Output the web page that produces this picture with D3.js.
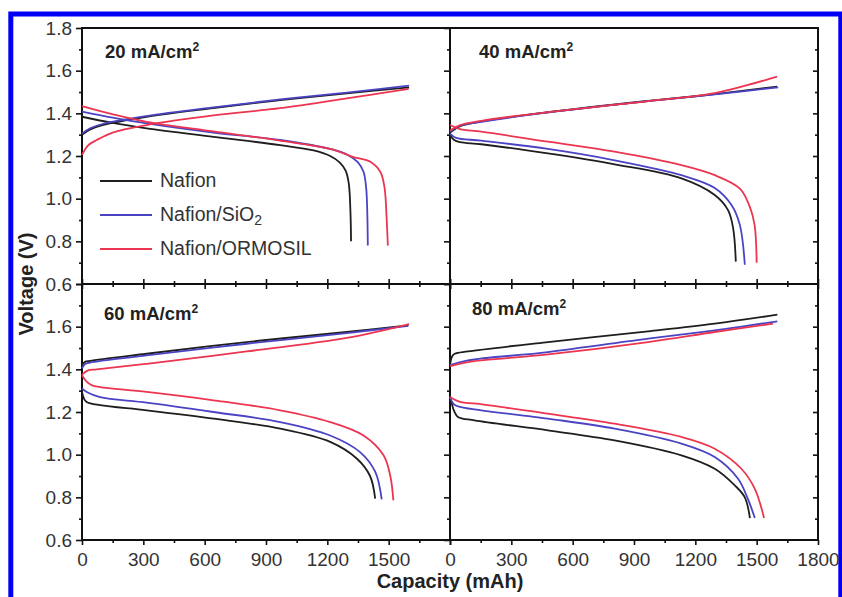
<!DOCTYPE html>
<html lang="en">
<head>
<meta charset="utf-8">
<title>Charge / discharge curves</title>
<script src="https://cdn.jsdelivr.net/npm/d3@7"></script>
<style>
  body { margin: 0; background: #fff; }
  text { font-family: "Liberation Sans", Arial, sans-serif; }
</style>
</head>
<body>
<script>
// series and panels
var seriesNames = ["Nafion", "Nafion/SiO", "Nafion/ORMOSIL"];
var seriesSub = ["", "2", ""];
var panelCurrents = ["20", "40", "60", "80"];
var xMajor = [0, 300, 600, 900, 1200, 1500, 1800];
var xMinor = [150, 450, 750, 1050, 1350, 1650];
var yMajor = [0.6, 0.8, 1.0, 1.2, 1.4, 1.6, 1.8];
var yMinor = [0.7, 0.9, 1.1, 1.3, 1.5, 1.7];

// 20 mA/cm2 : [capacity mAh, voltage V]
var nafion20Charge = [[0,1.30],[40,1.325],[100,1.345],[316,1.384],[643,1.425],[969,1.462],[1295,1.494],[1600,1.522]];
var sio20Charge = [[0,1.305],[40,1.33],[100,1.35],[316,1.387],[643,1.428],[969,1.465],[1295,1.497],[1600,1.53]];
var ormosil20Charge = [[0,1.205],[30,1.25],[72,1.275],[150,1.31],[316,1.345],[643,1.39],[969,1.424],[1295,1.47],[1598,1.515]];
var nafion20Discharge = [[0,1.384],[150,1.355],[316,1.33],[643,1.29],[969,1.251],[1133,1.226],[1214,1.2],[1260,1.17],[1290,1.13],[1305,1.07],[1313,0.94],[1316,0.80]];
var sio20Discharge = [[0,1.408],[150,1.38],[316,1.353],[643,1.31],[969,1.275],[1214,1.233],[1300,1.205],[1350,1.17],[1377,1.126],[1390,1.05],[1395,0.95],[1398,0.78]];
var ormosil20Discharge = [[0,1.434],[152,1.395],[316,1.36],[643,1.315],[969,1.272],[1214,1.233],[1328,1.195],[1410,1.173],[1459,1.126],[1480,1.05],[1490,0.908],[1496,0.78]];

// 40 mA/cm2
var nafion40Charge = [[0,1.31],[50,1.34],[153,1.362],[479,1.405],[969,1.458],[1295,1.49],[1600,1.525]];
var sio40Charge = [[0,1.315],[50,1.342],[153,1.36],[479,1.404],[969,1.457],[1295,1.489],[1605,1.522]];
var ormosil40Charge = [[0,1.32],[50,1.345],[153,1.365],[479,1.406],[969,1.457],[1295,1.495],[1458,1.533],[1600,1.572]];
var nafion40Discharge = [[0,1.298],[20,1.275],[49,1.265],[153,1.255],[479,1.212],[805,1.161],[1132,1.095],[1295,1.017],[1360,0.946],[1385,0.861],[1398,0.705]];
var sio40Discharge = [[0,1.305],[30,1.285],[153,1.272],[479,1.233],[805,1.18],[1132,1.11],[1295,1.05],[1377,0.97],[1418,0.876],[1442,0.69]];
var ormosil40Discharge = [[0,1.345],[49,1.326],[153,1.314],[479,1.267],[805,1.22],[1132,1.157],[1295,1.11],[1418,1.047],[1467,0.96],[1490,0.876],[1500,0.70]];

// 60 mA/cm2
var nafion60Charge = [[0,1.42],[15,1.435],[39,1.44],[316,1.473],[805,1.528],[1295,1.575],[1596,1.606]];
var sio60Charge = [[0,1.405],[15,1.425],[39,1.432],[316,1.465],[805,1.52],[1295,1.57],[1596,1.604]];
var ormosil60Charge = [[0,1.375],[30,1.395],[72,1.40],[316,1.426],[805,1.484],[1295,1.547],[1600,1.612]];
var nafion60Discharge = [[0,1.294],[10,1.262],[23,1.247],[88,1.232],[316,1.208],[643,1.169],[969,1.122],[1214,1.06],[1345,0.981],[1409,0.90],[1434,0.794]];
var sio60Discharge = [[0,1.31],[23,1.294],[88,1.27],[316,1.244],[643,1.2],[969,1.153],[1214,1.09],[1360,1.012],[1434,0.92],[1466,0.79]];
var ormosil60Discharge = [[0,1.372],[20,1.345],[49,1.325],[88,1.317],[316,1.294],[643,1.255],[969,1.208],[1214,1.153],[1377,1.09],[1475,0.997],[1508,0.90],[1523,0.786]];

// 80 mA/cm2
var nafion80Charge = [[0,1.42],[10,1.46],[23,1.473],[88,1.484],[479,1.528],[969,1.578],[1295,1.614],[1601,1.656]];
var sio80Charge = [[0,1.42],[88,1.442],[479,1.481],[969,1.544],[1295,1.583],[1601,1.625]];
var ormosil80Charge = [[0,1.415],[88,1.434],[479,1.47],[969,1.528],[1295,1.575],[1580,1.614]];
var nafion80Discharge = [[0,1.278],[10,1.235],[20,1.205],[39,1.177],[120,1.161],[479,1.114],[805,1.067],[1132,0.997],[1295,0.934],[1393,0.856],[1442,0.80],[1467,0.703]];
var sio80Discharge = [[0,1.27],[20,1.235],[60,1.222],[479,1.169],[805,1.122],[1132,1.052],[1295,0.989],[1409,0.887],[1458,0.79],[1491,0.703]];
var ormosil80Discharge = [[0,1.27],[49,1.247],[130,1.239],[479,1.192],[805,1.145],[1132,1.083],[1295,1.028],[1425,0.934],[1491,0.84],[1536,0.703]];

var panels = [
  [[nafion20Charge, nafion20Discharge], [sio20Charge, sio20Discharge], [ormosil20Charge, ormosil20Discharge]],
  [[nafion40Charge, nafion40Discharge], [sio40Charge, sio40Discharge], [ormosil40Charge, ormosil40Discharge]],
  [[nafion60Charge, nafion60Discharge], [sio60Charge, sio60Discharge], [ormosil60Charge, ormosil60Discharge]],
  [[nafion80Charge, nafion80Discharge], [sio80Charge, sio80Discharge], [ormosil80Charge, ormosil80Discharge]]
];

var w = 842, h = 597;
var left = 82, top0 = 28, pw = 368, ph = 256;
var colors = ["#1e1e1e", "#4a44c4", "#ec3550"];
var labelPos = [[23, 30], [29, 30], [22, 36], [22, 31]];

var svg = d3.select("body").append("svg")
  .attr("width", w).attr("height", h);

svg.append("rect").attr("width", w).attr("height", h).attr("fill", "#fff");

// blue frame around the figure
svg.append("rect")
  .attr("x", 10.8).attr("y", 14).attr("width", 830).attr("height", 620)
  .attr("fill", "none").attr("stroke", "#0000f5").attr("stroke-width", 5);

function tidy(sel) {
  sel.select(".domain").remove();
  sel.selectAll("line").attr("stroke", "#111").attr("stroke-width", 1.6);
  sel.selectAll("text").attr("font-size", 19).attr("fill", "#333")
    .attr("font-family", "'Liberation Sans', Arial, sans-serif");
}

panels.forEach(function(curves, i) {
  var col = i % 2, row = Math.floor(i / 2);
  var x0 = left + col * pw, y0 = top0 + row * ph;
  var x = d3.scaleLinear().domain([0, 1800]).range([x0, x0 + pw]);
  var y = d3.scaleLinear().domain([0.6, 1.8]).range([y0 + ph, y0]);
  var g = svg.append("g");

  // left axis
  g.append("g").attr("transform", "translate(" + x0 + ",0)")
    .call(d3.axisLeft(y).tickValues(yMinor).tickSize(3).tickFormat(""))
    .call(tidy);
  g.append("g").attr("transform", "translate(" + x0 + ",0)")
    .call(d3.axisLeft(y).tickValues(yMajor).tickSize(6).tickPadding(4)
      .tickFormat(function(d) {
        if (col === 1) return "";
        if (row === 1 && d === 1.8) return "";
        return d3.format(".1f")(d);
      }))
    .call(tidy);

  // right axis of right column, ticks inward
  if (col === 1) {
    g.append("g").attr("transform", "translate(" + (x0 + pw) + ",0)")
      .call(d3.axisLeft(y).tickValues(yMinor).tickSize(3).tickFormat(""))
      .call(tidy);
    g.append("g").attr("transform", "translate(" + (x0 + pw) + ",0)")
      .call(d3.axisLeft(y).tickValues(yMajor.slice(1, 6)).tickSize(5).tickFormat(""))
      .call(tidy);
  }

  // bottom axis
  g.append("g").attr("transform", "translate(0," + (y0 + ph) + ")")
    .call(d3.axisBottom(x).tickValues(xMinor).tickSize(3).tickFormat(""))
    .call(tidy);
  g.append("g").attr("transform", "translate(0," + (y0 + ph) + ")")
    .call(d3.axisBottom(x).tickValues(xMajor).tickSize(5).tickPadding(8)
      .tickFormat(function(d) {
        if (row === 0) return "";
        if (col === 0 && d === 1800) return "";
        return d;
      }))
    .call(tidy);

  // top axis of bottom row
  if (row === 1) {
    g.append("g").attr("transform", "translate(0," + y0 + ")")
      .call(d3.axisTop(x).tickValues(xMinor).tickSize(3).tickFormat(""))
      .call(tidy);
    g.append("g").attr("transform", "translate(0," + y0 + ")")
      .call(d3.axisTop(x).tickValues(xMajor).tickSize(5).tickFormat(""))
      .call(tidy);
  }

  g.append("rect")
    .attr("x", x0).attr("y", y0).attr("width", pw).attr("height", ph)
    .attr("fill", "none").attr("stroke", "#111").attr("stroke-width", 2);

  var line = d3.line()
    .x(function(d) { return x(d[0]); })
    .y(function(d) { return y(d[1]); })
    .curve(d3.curveCatmullRom.alpha(0.5));

  curves.forEach(function(pair, s) {
    pair.forEach(function(pts) {
      g.append("path")
        .attr("d", line(pts))
        .attr("fill", "none")
        .attr("stroke", colors[s])
        .attr("stroke-width", 1.8);
    });
  });

  var lab = g.append("text")
    .attr("x", x0 + labelPos[i][0]).attr("y", y0 + labelPos[i][1])
    .attr("font-size", 18.5).attr("font-weight", "bold").attr("fill", "#222");
  lab.append("tspan").text(panelCurrents[i] + " mA/cm");
  lab.append("tspan").text("2").attr("font-size", 12).attr("dy", -7);
});

// legend in first panel
var leg = svg.append("g");
seriesNames.forEach(function(name, s) {
  var ly = 181 + s * 34;
  leg.append("line")
    .attr("x1", 100).attr("x2", 152).attr("y1", ly).attr("y2", ly)
    .attr("stroke", colors[s]).attr("stroke-width", 1.8);
  var t = leg.append("text")
    .attr("x", 160).attr("y", ly + 6)
    .attr("font-size", 19.5).attr("fill", "#333");
  t.append("tspan").text(name);
  if (seriesSub[s]) {
    t.append("tspan").text(seriesSub[s]).attr("font-size", 14).attr("dy", 4);
  }
});

// axis titles
svg.append("text")
  .attr("x", 450).attr("y", 588)
  .attr("text-anchor", "middle")
  .attr("font-size", 20).attr("font-weight", "bold").attr("fill", "#222")
  .text("Capacity (mAh)");

svg.append("text")
  .attr("transform", "translate(33,284) rotate(-90)")
  .attr("text-anchor", "middle")
  .attr("font-size", 20).attr("font-weight", "bold").attr("fill", "#222")
  .text("Voltage (V)");
</script>
</body>
</html>
